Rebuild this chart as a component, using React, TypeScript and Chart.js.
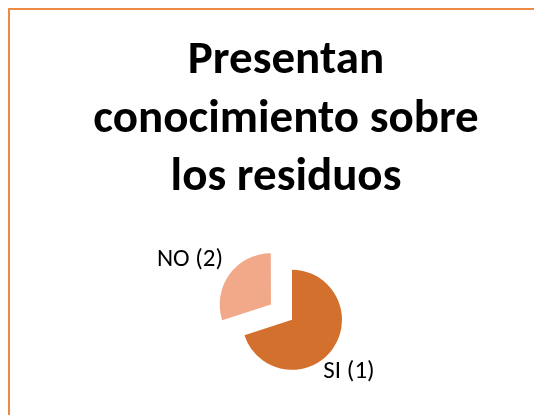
import React, { useEffect, useRef } from "react";
import { Chart, registerables } from "chart.js";

Chart.register(...registerables);

const titleLines = ["Presentan", "conocimiento sobre", "los residuos"];
const categories = ["SI (1)", "NO (2)"];
const values = [70, 30];
const sliceColors = ["#D3702D", "#F1A98A"];
const explode = [0, 104];

const FONT = "Carlito, Calibri, Lato, 'Open Sans', sans-serif";

const shiftPlugin = {
  id: "shiftArea",
  afterLayout(chart: any) {
    const a = chart.chartArea;
    a.left += 6;
    a.right += 6;
  },
};

const labelPlugin = {
  id: "sliceLabels",
  afterDatasetsDraw(chart: any) {
    const ctx = chart.ctx;
    const meta = chart.getDatasetMeta(0);
    const nudges = [
      { dx: 57, dy: 52 },
      { dx: -81, dy: -45 },
    ];
    ctx.save();
    ctx.font = `25px ${FONT}`;
    ctx.fillStyle = "#000";
    ctx.textAlign = "center";
    ctx.textBaseline = "middle";
    meta.data.forEach((arc: any, i: number) => {
      const p = arc.getProps(["x", "y", "startAngle", "endAngle"], true);
      const mid = (p.startAngle + p.endAngle) / 2;
      const off = (arc.options.offset || 0) / 4;
      const cx = p.x + Math.cos(mid) * off;
      const cy = p.y + Math.sin(mid) * off;
      ctx.fillText(categories[i], cx + nudges[i].dx, cy + nudges[i].dy);
    });
    ctx.restore();
  },
};

export default function App() {
  const ref = useRef<HTMLCanvasElement>(null);
  useEffect(() => {
    if (!ref.current) return;
    const chart = new Chart(ref.current, {
      type: "pie",
      data: {
        labels: categories,
        datasets: [
          {
            data: values,
            backgroundColor: sliceColors,
            borderWidth: 0,
            offset: explode,
            hoverOffset: 0,
          },
        ],
      },
      options: {
        responsive: false,
        animation: false,
        radius: 50,
        layout: { padding: { bottom: 7 } },
        events: [],
        plugins: {
          legend: { display: false },
          tooltip: { enabled: false },
          title: {
            display: true,
            text: titleLines,
            color: "#000",
            font: { family: FONT, size: 47, weight: "bold", lineHeight: 1.245 },
            padding: { top: 22, bottom: 9 },
          },
        },
      } as any,
      plugins: [shiftPlugin, labelPlugin],
    });
    return () => chart.destroy();
  }, []);
  return (
    <div style={{ width: 534, height: 407, overflow: "hidden" }}>
      <div
        style={{
          width: 552,
          height: 420,
          border: "2px solid #EE8A43",
          background: "#fff",
        }}
      >
        <canvas ref={ref} width={552} height={420} style={{ display: "block" }} />
      </div>
    </div>
  );
}
